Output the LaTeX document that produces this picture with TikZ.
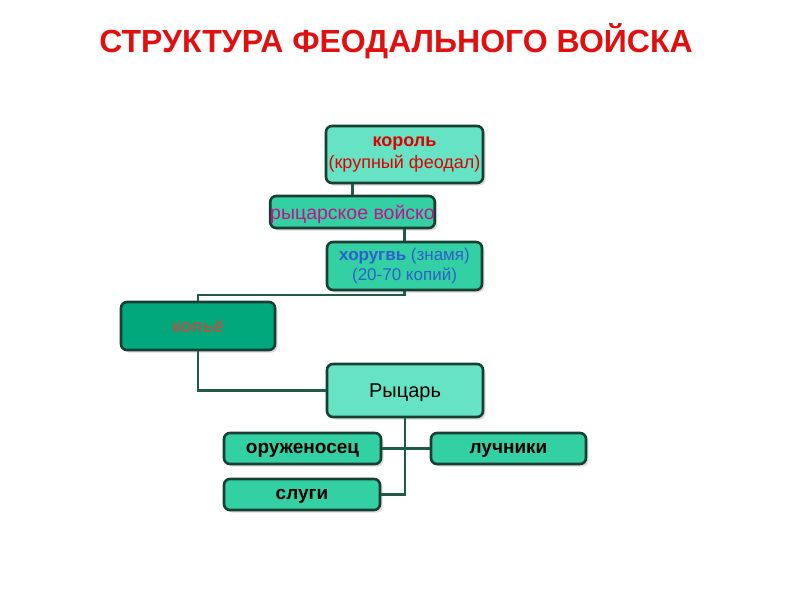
\documentclass[tikz,border=0pt]{standalone}
\usepackage{fontspec}
\setmainfont{Liberation Sans}
\usepackage{tikz}
\usetikzlibrary{shadows,calc}
\usepackage{xcolor}
\definecolor{lightteal}{HTML}{66E3C4}
\definecolor{midteal}{HTML}{33D0A4}
\definecolor{darkteal}{HTML}{00A87C}
\definecolor{edgegreen}{HTML}{183F33}
\definecolor{linegreen}{HTML}{1F5A4A}
\definecolor{titlered}{HTML}{E01010}
\definecolor{kingred}{HTML}{E00000}
\definecolor{knightmag}{HTML}{C8108C}
\definecolor{bannerblue}{HTML}{2E5FCC}
\definecolor{lancebrown}{HTML}{A85A48}

\begin{document}
\begin{tikzpicture}[
  x=1pt, y=-1pt,
  box/.style={draw=edgegreen,line width=2.6pt,rounded corners=6pt,fill=#1,
              align=center,inner sep=0pt,
              drop shadow={shadow xshift=2.5pt,shadow yshift=-2.5pt,fill=gray!55}},
  onerow/.style={text depth=0pt},
  conn/.style={draw=linegreen,line width=2.2pt}
]
\useasboundingbox (0,0) rectangle (794,595);

\node[font=\fontsize{32}{36}\selectfont\bfseries,text=titlered] (title) at (396,41)
  {СТРУКТУРА ФЕОДАЛЬНОГО ВОЙСКА};

\node[box=lightteal,minimum width=157pt,minimum height=57pt,
      font=\fontsize{18}{22}\selectfont,text=kingred] (korol) at (404.5,154.5)
  {\textbf{король}\\(крупный феодал)};
\node[box=midteal,onerow,minimum width=159pt,minimum height=32pt,
      font=\fontsize{19.5}{22}\selectfont,text=knightmag] (vojsko) at (352.5,212)
  {рыцарское войско};
\node[box=midteal,minimum width=155pt,minimum height=48pt,
      font=\fontsize{17}{20}\selectfont,text=bannerblue] (horugv) at (404.5,266)
  {\textbf{хоругвь} (знамя)\\(20-70 копий)};
\node[box=darkteal,onerow,minimum width=154pt,minimum height=48pt,
      font=\fontsize{18}{21}\selectfont\bfseries,text=lancebrown] (kopje) at (198,326)
  {копьё};
\node[box=lightteal,onerow,minimum width=156pt,minimum height=53pt,
      font=\fontsize{20}{23}\selectfont,text=black] (rycar) at (405,390.5)
  {Рыцарь};
\node[box=midteal,onerow,minimum width=157pt,minimum height=31pt,
      font=\fontsize{19}{22}\selectfont\bfseries] (oruzh) at (302.5,448.5)
  {оруженосец};
\node[box=midteal,onerow,minimum width=155pt,minimum height=31pt,
      font=\fontsize{19}{22}\selectfont\bfseries] (luchn) at (508.5,448.5)
  {лучники};
\node[box=midteal,onerow,minimum width=156pt,minimum height=31pt,
      font=\fontsize{19}{22}\selectfont\bfseries] (slugi) at (302,494.5)
  {слуги};

% connectors
\draw[conn] (korol.south -| vojsko.north) -- (vojsko.north);
\draw[conn] (vojsko.south -| horugv.south) -- (horugv.north);
\draw[conn] (horugv.south) -- ++(0,4) -| (kopje.north);
\draw[conn] (kopje.south) |- (rycar.west);
\draw[conn] (rycar.south) |- (slugi.east);
\draw[conn] (oruzh.east) -- (luchn.west);
\end{tikzpicture}
\end{document}
